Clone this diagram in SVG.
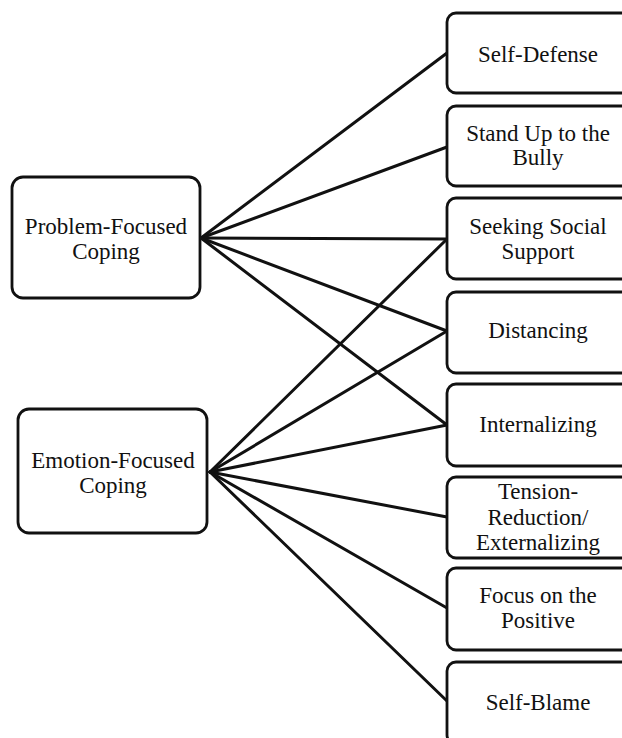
<svg xmlns="http://www.w3.org/2000/svg" width="622" height="738" viewBox="0 0 622 738">
<style>
.box{fill:#fff;stroke:#111;stroke-width:2.8}
.t{font-family:"Liberation Serif","Times New Roman",serif;font-size:23px;fill:#111;text-anchor:middle}
.c line{stroke:#111;stroke-width:3;stroke-linecap:round}
</style>
<rect width="622" height="738" fill="#fff"/>
<g class="c" id="connectors">
<line x1="201" y1="238" x2="447" y2="53"/>
<line x1="201" y1="238" x2="447" y2="147"/>
<line x1="201" y1="238" x2="447" y2="239"/>
<line x1="201" y1="238" x2="447" y2="331"/>
<line x1="201" y1="238" x2="447" y2="425"/>
<line x1="210" y1="472" x2="447" y2="239"/>
<line x1="210" y1="472" x2="447" y2="331"/>
<line x1="210" y1="472" x2="447" y2="425"/>
<line x1="210" y1="472" x2="447" y2="517"/>
<line x1="210" y1="472" x2="447" y2="608"/>
<line x1="210" y1="472" x2="447" y2="701"/>
</g>
<g id="problem"><rect class="box" x="12" y="177" width="188" height="121" rx="11"/>
<text class="t" x="106" y="234">Problem-Focused</text><text class="t" x="106" y="259">Coping</text></g>
<g id="emotion"><rect class="box" x="18" y="409" width="189" height="124" rx="11"/>
<text class="t" x="113" y="468">Emotion-Focused</text><text class="t" x="113" y="493">Coping</text></g>
<g id="selfdefense"><rect class="box" x="447" y="13" width="184" height="80" rx="9"/>
<text class="t" x="538" y="62">Self-Defense</text></g>
<g id="standup"><rect class="box" x="447" y="106" width="184" height="80" rx="9"/>
<text class="t" x="538" y="141">Stand Up to the</text><text class="t" x="538" y="165">Bully</text></g>
<g id="seeking"><rect class="box" x="447" y="198" width="184" height="81" rx="9"/>
<text class="t" x="538" y="234">Seeking Social</text><text class="t" x="538" y="259">Support</text></g>
<g id="distancing"><rect class="box" x="447" y="292" width="184" height="81" rx="9"/>
<text class="t" x="538" y="338">Distancing</text></g>
<g id="internalizing"><rect class="box" x="447" y="384" width="184" height="82" rx="9"/>
<text class="t" x="538" y="432">Internalizing</text></g>
<g id="tension"><rect class="box" x="447" y="477" width="184" height="81" rx="9"/>
<text class="t" x="538" y="499">Tension-</text><text class="t" x="538" y="525">Reduction/</text><text class="t" x="538" y="550">Externalizing</text></g>
<g id="focus"><rect class="box" x="447" y="568" width="184" height="82" rx="9"/>
<text class="t" x="538" y="603">Focus on the</text><text class="t" x="538" y="628">Positive</text></g>
<g id="selfblame"><rect class="box" x="447" y="662" width="184" height="82" rx="9"/>
<text class="t" x="538" y="710">Self-Blame</text></g>
</svg>
